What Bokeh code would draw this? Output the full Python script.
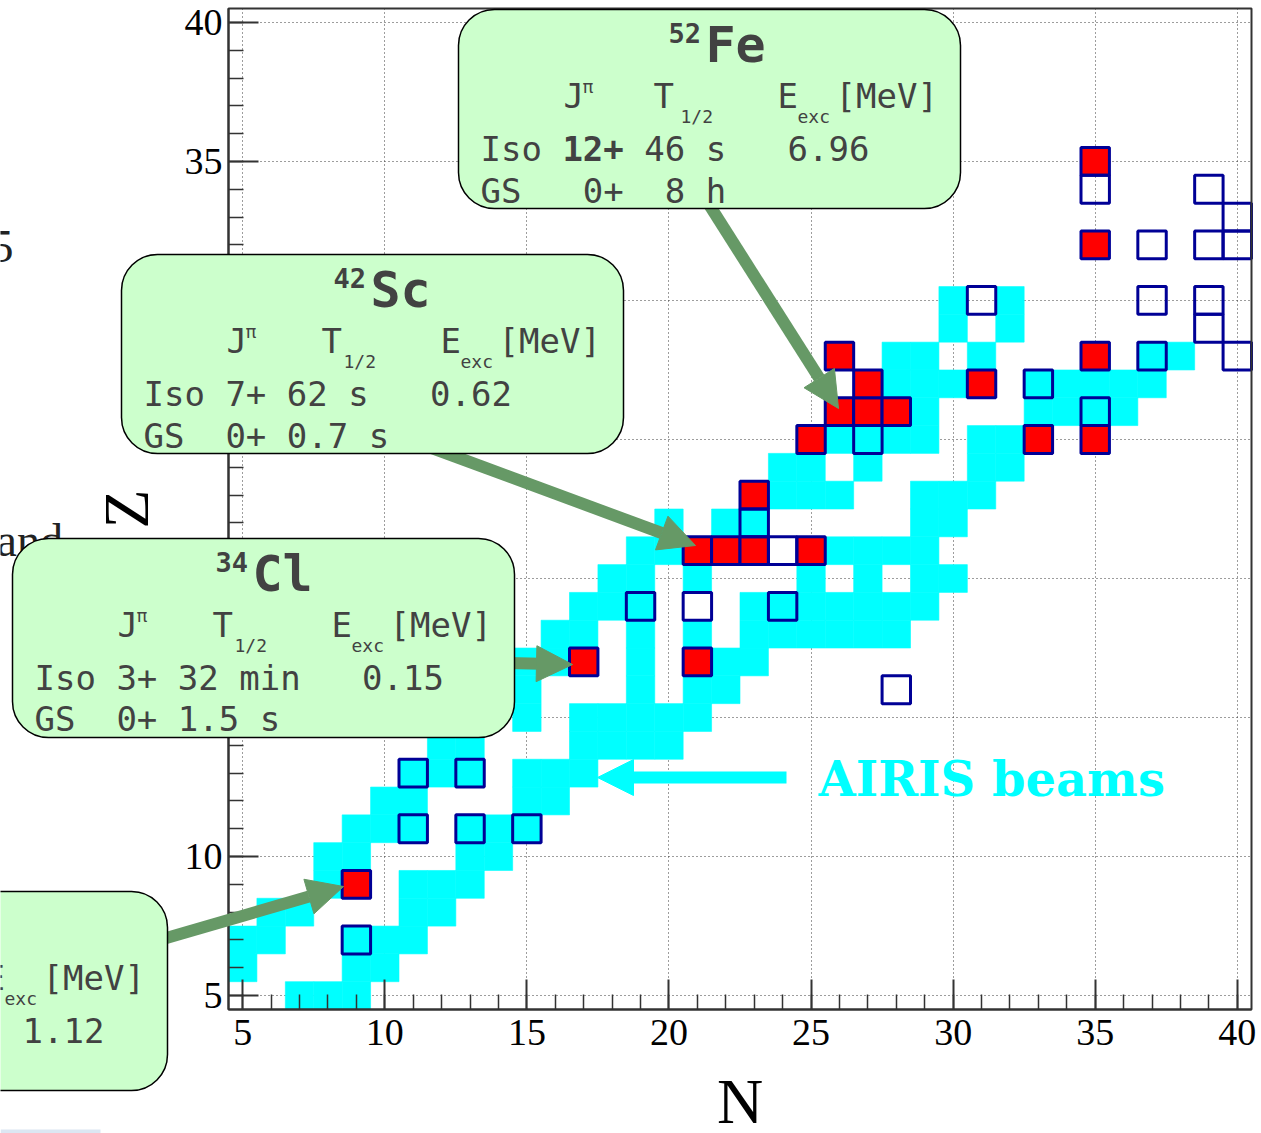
from bokeh.plotting import figure
from bokeh.models import (Range1d, LinearAxis, FixedTicker, Grid, BoxAnnotation,
                          Label, Arrow, NormalHead)
from bokeh.embed import file_html
from bokeh.resources import INLINE

# ---------------------------------------------------------------- data
# AIRIS beam coverage: neutron number N and proton number Z of each cell
beam_n = [7, 8, 9,
          5, 9, 10,
          5, 6, 9, 10, 11,
          6, 7, 11, 12,
          8, 11, 12, 13,
          8, 9, 13, 14,
          9, 10, 11, 13, 14, 15,
          10, 11, 15, 16,
          11, 12, 13, 15, 16, 17,
          12, 13, 17, 18, 19, 20,
          15, 17, 18, 19, 20, 21,
          15, 19, 21, 22,
          15, 16, 19, 22, 23,
          16, 17, 19, 21, 23, 24, 25, 26, 27, 28,
          17, 18, 19, 23, 24, 25, 26, 27, 28, 29,
          18, 19, 21, 25, 27, 29, 30,
          19, 20, 26, 27, 28, 29,
          20, 22, 23, 29, 30,
          24, 25, 26, 29, 30, 31,
          24, 25, 27, 31, 32,
          26, 27, 28, 29, 31, 32,
          29, 33, 34, 35, 36,
          28, 29, 30, 33, 34, 35, 36, 37,
          28, 29, 31, 37, 38,
          30, 32,
          30, 32]
beam_z = [5, 5, 5,
          6, 6, 6,
          7, 7, 7, 7, 7,
          8, 8, 8, 8,
          9, 9, 9, 9,
          10, 10, 10, 10,
          11, 11, 11, 11, 11, 11,
          12, 12, 12, 12,
          13, 13, 13, 13, 13, 13,
          14, 14, 14, 14, 14, 14,
          15, 15, 15, 15, 15, 15,
          16, 16, 16, 16,
          17, 17, 17, 17, 17,
          18, 18, 18, 18, 18, 18, 18, 18, 18, 18,
          19, 19, 19, 19, 19, 19, 19, 19, 19, 19,
          20, 20, 20, 20, 20, 20, 20,
          21, 21, 21, 21, 21, 21,
          22, 22, 22, 22, 22,
          23, 23, 23, 23, 23, 23,
          24, 24, 24, 24, 24,
          25, 25, 25, 25, 25, 25,
          26, 26, 26, 26, 26,
          27, 27, 27, 27, 27, 27, 27, 27,
          28, 28, 28, 28, 28,
          29, 29,
          30, 30]

# highlighted isomers (filled)
iso_n = [9, 17, 21, 21, 22, 23, 25, 23, 25, 26, 27, 28, 27, 31, 26, 33, 35, 35, 35, 35]
iso_z = [9, 17, 17, 21, 21, 21, 21, 23, 25, 26, 26, 26, 27, 27, 28, 25, 25, 28, 32, 35]

# other isomers (open)
oth_n = [9, 11, 13, 15, 11, 13, 28, 19, 21, 24, 24, 23, 27, 35, 33, 37, 40, 39,
         31, 37, 39, 37, 39, 40, 40, 35, 39]
oth_z = [7, 11, 11, 11, 13, 13, 16, 19, 19, 19, 21, 22, 25, 26, 27, 28, 28, 29,
         30, 30, 30, 32, 32, 32, 33, 34, 34]

tick_values = [5, 10, 15, 20, 25, 30, 35, 40]
tick_labels = ["5", "10", "15", "20", "25", "30", "35", "40"]
minor_values = list(range(5, 41))

# ---------------------------------------------------------------- layout
W, H = 1261, 1133
FL, FR, FT, FB = 228, 1251, 8, 1009      # frame edges in page pixels
LO, HI = 4.5, 40.5                        # axis span in N and Z
sx = (FR - FL) / (HI - LO)
sy = (FB - FT) / (HI - LO)


def X(px):
    return LO + (px - FL) / sx


def Y(py):
    return LO + (FB - py) / sy


MONO = "DejaVu Sans Mono"
SERIF = "Liberation Serif"
INK = "#424242"
GREEN = "#669966"
CYAN = "#00ffff"
NAVY = "#000096"
NBSP = "\u00a0"

p = figure(width=W, height=H,
           x_range=Range1d(X(0), X(W)), y_range=Range1d(Y(H), Y(0)),
           x_axis_type=None, y_axis_type=None, toolbar_location=None,
           output_backend="svg", min_border=0, outline_line_color=None,
           background_fill_color="white", border_fill_color="white")
p.title.visible = False

# dotted grid at the major ticks, limited to the frame
for dim in (0, 1):
    p.add_layout(Grid(dimension=dim, ticker=FixedTicker(ticks=tick_values),
                      bounds=(LO, HI), cross_bounds=(LO, HI),
                      grid_line_color="#3a3a3a", grid_line_dash="1 3",
                      grid_line_width=1))

# nuclide cells
p.rect(x=beam_n, y=beam_z, width=1, height=1, fill_color=CYAN,
       line_color=CYAN, line_width=0.6)
p.rect(x=iso_n, y=iso_z, width=1, height=1, fill_color="#ff0000",
       line_color=NAVY, line_width=3)
p.rect(x=oth_n, y=oth_z, width=1, height=1, fill_color=None,
       line_color=NAVY, line_width=3)

# frame
p.quad(left=[LO], right=[HI], bottom=[LO], top=[HI], fill_color=None,
       line_color="#333333", line_width=2)

# axes, placed on the frame edges
axis_style = dict(bounds=(LO, HI),
                  ticker=FixedTicker(ticks=tick_values, minor_ticks=minor_values),
                  major_label_overrides=dict(zip(tick_values, tick_labels)),
                  axis_line_color="#333333", axis_line_width=2,
                  major_tick_line_color="#333333", major_tick_line_width=2,
                  minor_tick_line_color="#333333", minor_tick_line_width=1.5,
                  major_tick_in=30, major_tick_out=0,
                  minor_tick_in=15, minor_tick_out=0,
                  major_label_text_font=SERIF, major_label_text_font_size="38px",
                  major_label_text_color="black",
                  axis_label_text_font=SERIF, axis_label_text_font_size="64px",
                  axis_label_text_font_style="normal", axis_label_text_color="black")
yax = LinearAxis(fixed_location=LO, axis_label="Z", major_label_standoff=6,
                 axis_label_standoff=20, **axis_style)
xax = LinearAxis(fixed_location=LO, axis_label="N", major_label_standoff=10,
                 axis_label_standoff=18, **axis_style)
p.add_layout(yax, "left")
p.add_layout(xax, "below")


def txt(px, py, s, size, bold=False, font=MONO, color=INK, align="left"):
    # py is the baseline in page pixels; lift to where the glyphs land
    p.add_layout(Label(x=X(px), y=Y(py - 0.35 * size), text=s.replace(" ", NBSP),
                       text_font=font, text_font_size=f"{size}px",
                       text_font_style="bold" if bold else "normal",
                       text_color=color, text_baseline="alphabetic",
                       text_align=align))


def arrow(p0, p1, color, width, head):
    p.add_layout(Arrow(x_start=X(p0[0]), y_start=Y(p0[1]),
                       x_end=X(p1[0]), y_end=Y(p1[1]),
                       line_color=color, line_width=width,
                       end=NormalHead(size=head, fill_color=color,
                                      line_color=color, line_width=1)))


def box(left, top, width=502, height=199):
    p.add_layout(BoxAnnotation(left=X(left), right=X(left + width),
                               top=Y(top), bottom=Y(top + height),
                               fill_color="#ccffcc", fill_alpha=1,
                               line_color="black", line_alpha=1, line_width=1.5,
                               border_radius=36))


CW = 0.6021 * 34   # advance of one monospace character


def header(left, top, t_off=200):
    txt(left + 105, top + 98, "J", 34)
    txt(left + 124, top + 83, "π", 18)
    txt(left + t_off, top + 98, "T", 34)
    txt(left + 222, top + 113, "1/2", 18)
    txt(left + 319, top + 98, "E", 34)
    txt(left + 339, top + 113, "exc", 18)
    txt(left + 377, top + 98, "[MeV]", 34)


def title(left, top, mass, elem, m_off, e_off):
    txt(left + m_off, top + 33, mass, 27, bold=True)
    txt(left + e_off, top + 53, elem, 50, bold=True)


# text fragments at the page edge
txt(13, 262, "5", 46, font=SERIF, color="#222222", align="right")
txt(-4, 556, "and", 46, font=SERIF, color="#222222")

# AIRIS beams marker
arrow((786, 777), (597, 777), CYAN, 12, 36)
txt(818, 795, "AIRIS beams", 48, bold=True, font="DejaVu Serif", color=CYAN)

# callout arrows (tails hidden under the boxes)
arrow((706, 200), (838, 408), GREEN, 12, 36)
arrow((430, 447), (695, 545), GREEN, 12, 36)
arrow((480, 662), (572, 664), GREEN, 12, 36)
arrow((140, 945), (343, 886), GREEN, 12, 36)

# 52Fe
L, T = 458, 9
box(L, T)
title(L, T, "52", "Fe", 210, 247)
header(L, T, t_off=195)
txt(L + 22, T + 151, "Iso", 34)
txt(L + 22 + 4 * CW, T + 151, "12+", 34, bold=True)
txt(L + 22 + 8 * CW, T + 151, "46 s   6.96", 34)
txt(L + 22, T + 193, "GS   0+  8 h", 34)

# 42Sc
L, T = 121, 254
box(L, T)
title(L, T, "42", "Sc", 212, 249)
header(L, T)
txt(L + 22, T + 151, "Iso 7+ 62 s   0.62", 34)
txt(L + 22, T + 193, "GS  0+ 0.7 s", 34)

# 34Cl
L, T = 12, 538
box(L, T)
title(L, T, "34", "Cl", 203, 240)
header(L, T)
txt(L + 22, T + 151, "Iso 3+ 32 min   0.15", 34)
txt(L + 22, T + 192, "GS  0+ 1.5 s", 34)

# callout at the lower left edge
L, T = -335, 891
box(L, T)
txt(L + 319, T + 98, "E", 34)
txt(L + 339, T + 113, "exc", 18)
txt(L + 377, T + 98, "[MeV]", 34)
txt(L + 357, T + 151, "1.12", 34)

p.add_layout(BoxAnnotation(left=X(0), right=X(100), top=Y(1129), bottom=Y(1133),
                           fill_color="#dce6f2", fill_alpha=1, line_color=None))

open("out.html", "w").write(file_html(p, INLINE))
